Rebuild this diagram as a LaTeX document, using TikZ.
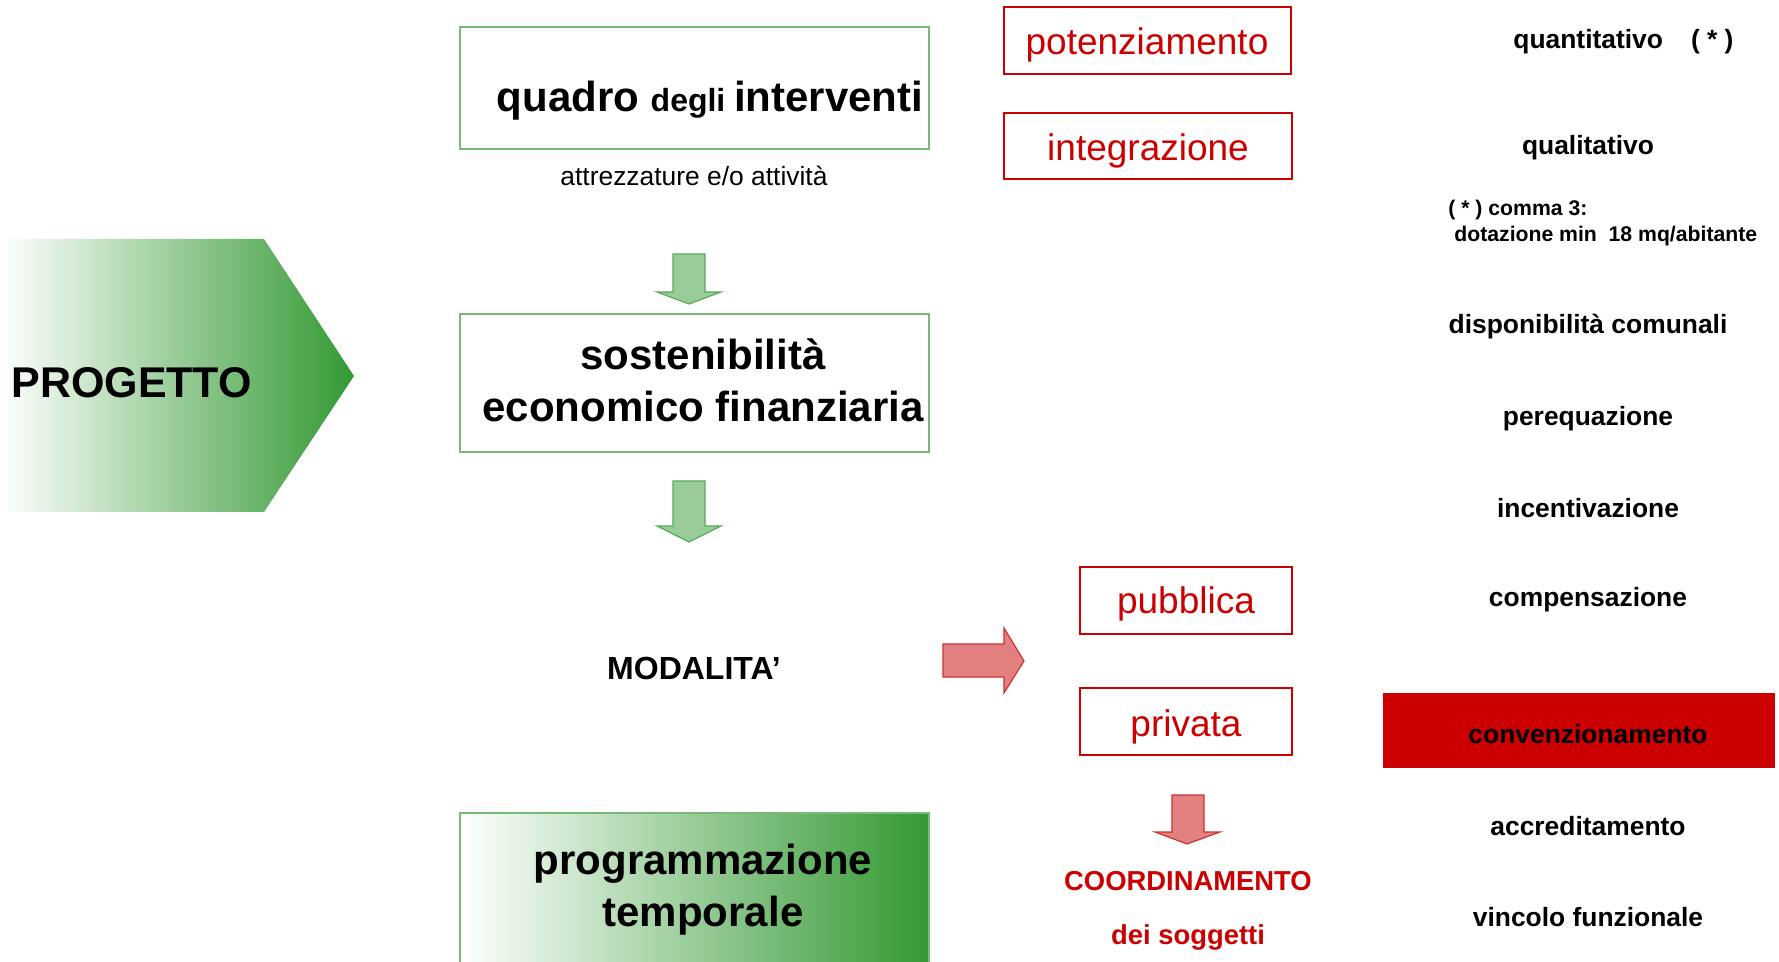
\documentclass[tikz,border=0pt]{standalone}
\usepackage{fontspec}
\setmainfont{Liberation Sans}
\definecolor{progreen}{RGB}{51,153,51}
\definecolor{boxgreen}{RGB}{120,185,120}
\definecolor{arrowgreen}{RGB}{153,204,153}
\definecolor{arrowgreenline}{RGB}{90,170,90}
\definecolor{progred}{RGB}{204,0,0}
\definecolor{arrowred}{RGB}{227,128,128}
\definecolor{arrowredline}{RGB}{204,51,51}
\tikzset{
  greenline/.style={draw=boxgreen, line width=0.7pt},
  redframe/.style={draw=progred, line width=1pt},
  fadegreen/.style={left color=white, middle color=progreen!28!white, right color=progreen},
  bigbold/.style={font=\bfseries\fontsize{21}{26}\selectfont, align=center},
  redword/.style={text=progred, font=\fontsize{18.5}{22}\selectfont, anchor=base},
  redbold/.style={text=progred, font=\bfseries\fontsize{13.7}{16}\selectfont, anchor=base},
  sidelabel/.style={font=\bfseries\fontsize{13.2}{16}\selectfont, anchor=base},
  notelabel/.style={font=\bfseries\fontsize{10.6}{13}\selectfont, anchor=base west},
  greenarrow/.style={fill=arrowgreen, draw=arrowgreenline, line width=0.6pt},
  redarrow/.style={fill=arrowred, draw=arrowredline, line width=0.6pt},
}
\begin{document}
\begin{tikzpicture}[x=0.5pt, y=-0.5pt, inner sep=0pt]
\useasboundingbox (0,0) rectangle (1779,962);
% Draw the chevron
        \shade[fadegreen] (0,239) -- (264,239)
          -- (354,376) -- (264,512) -- (0,512) -- cycle;
        \node[anchor=base west, font=\bfseries\fontsize{21.5}{26}\selectfont] (progetto) at (11,398) {PROGETTO};
% Draw the left column
        \draw[greenline] (460,27) rectangle (929,149);
        \node[anchor=base, font=\bfseries] (quadro) at (710,112)
          {\fontsize{21}{26}\selectfont quadro \fontsize{16}{20}\selectfont degli
           \fontsize{21}{26}\selectfont interventi};
        \node[anchor=base, font=\fontsize{13.2}{16}\selectfont] (attrezzature) at (694,186) {attrezzature e/o attività};
        \draw[greenarrow] (673,254) -- (705,254) -- (705,292) -- (721,292) -- (689,304)
          -- (657,292) -- (673,292) -- cycle;
        \draw[greenline] (460,314) rectangle (929,452);
        \node[bigbold] (sostenibilita) at (703,380) {sostenibilità\\economico finanziaria};
        \draw[greenarrow] (673,481) -- (705,481) -- (705,526) -- (721,526) -- (689,542)
          -- (657,526) -- (673,526) -- cycle;
        \node[anchor=base, font=\bfseries\fontsize{16}{20}\selectfont] (modalita) at (694,679) {MODALITA’};
        \shade[fadegreen] (460,813) rectangle (929,962);
        \draw[greenline] (460,962) -- (460,813) -- (929,813) -- (929,962);
        \node[bigbold] (programmazione) at (703,890) {programmazione\\temporale};
% Draw the red boxes
        \draw[redframe] (1004,7) rectangle (1291,74);
        \node[redword] (potenziamento) at (1147,55) {potenziamento};
        \draw[redframe] (1004,113) rectangle (1292,179);
        \node[redword] (integrazione) at (1148,161) {integrazione};
        \draw[redarrow] (943,644) -- (1004,644) -- (1004,628) -- (1024,661) -- (1004,693)
          -- (1004,677) -- (943,677) -- cycle;
        \draw[redframe] (1080,567) rectangle (1292,634);
        \node[redword] (pubblica) at (1186,614) {pubblica};
        \draw[redframe] (1080,688) rectangle (1292,755);
        \node[redword] (privata) at (1186,736) {privata};
        \draw[redarrow] (1172,795) -- (1204,795) -- (1204,832) -- (1220,832) -- (1187,844)
          -- (1155,832) -- (1172,832) -- cycle;
        \node[redbold] (coordinamento) at (1188,890) {COORDINAMENTO};
        \node[redbold] (soggetti) at (1188,944) {dei soggetti};
% Draw the right column
        \node[sidelabel, anchor=base west] (quantitativo) at (1513,49) {quantitativo\hspace{14pt}( * )};
        \node[sidelabel] (qualitativo) at (1588,155) {qualitativo};
        \node[notelabel] (comma) at (1448,216) {( * ) comma 3:};
        \node[notelabel] (dotazione) at (1454,242) {dotazione min\ \ 18 mq/abitante};
        \node[sidelabel] (disponibilita) at (1588,334) {disponibilità comunali};
        \node[sidelabel] (perequazione) at (1588,426) {perequazione};
        \node[sidelabel] (incentivazione) at (1588,518) {incentivazione};
        \node[sidelabel] (compensazione) at (1588,607) {compensazione};
        \fill[progred] (1383,693) rectangle (1775,768);
        \node[sidelabel] (convenzionamento) at (1588,743) {convenzionamento};
        \node[sidelabel] (accreditamento) at (1588,835) {accreditamento};
        \node[sidelabel] (vincolo) at (1588,926) {vincolo funzionale};
      \end{tikzpicture}
\end{document}
